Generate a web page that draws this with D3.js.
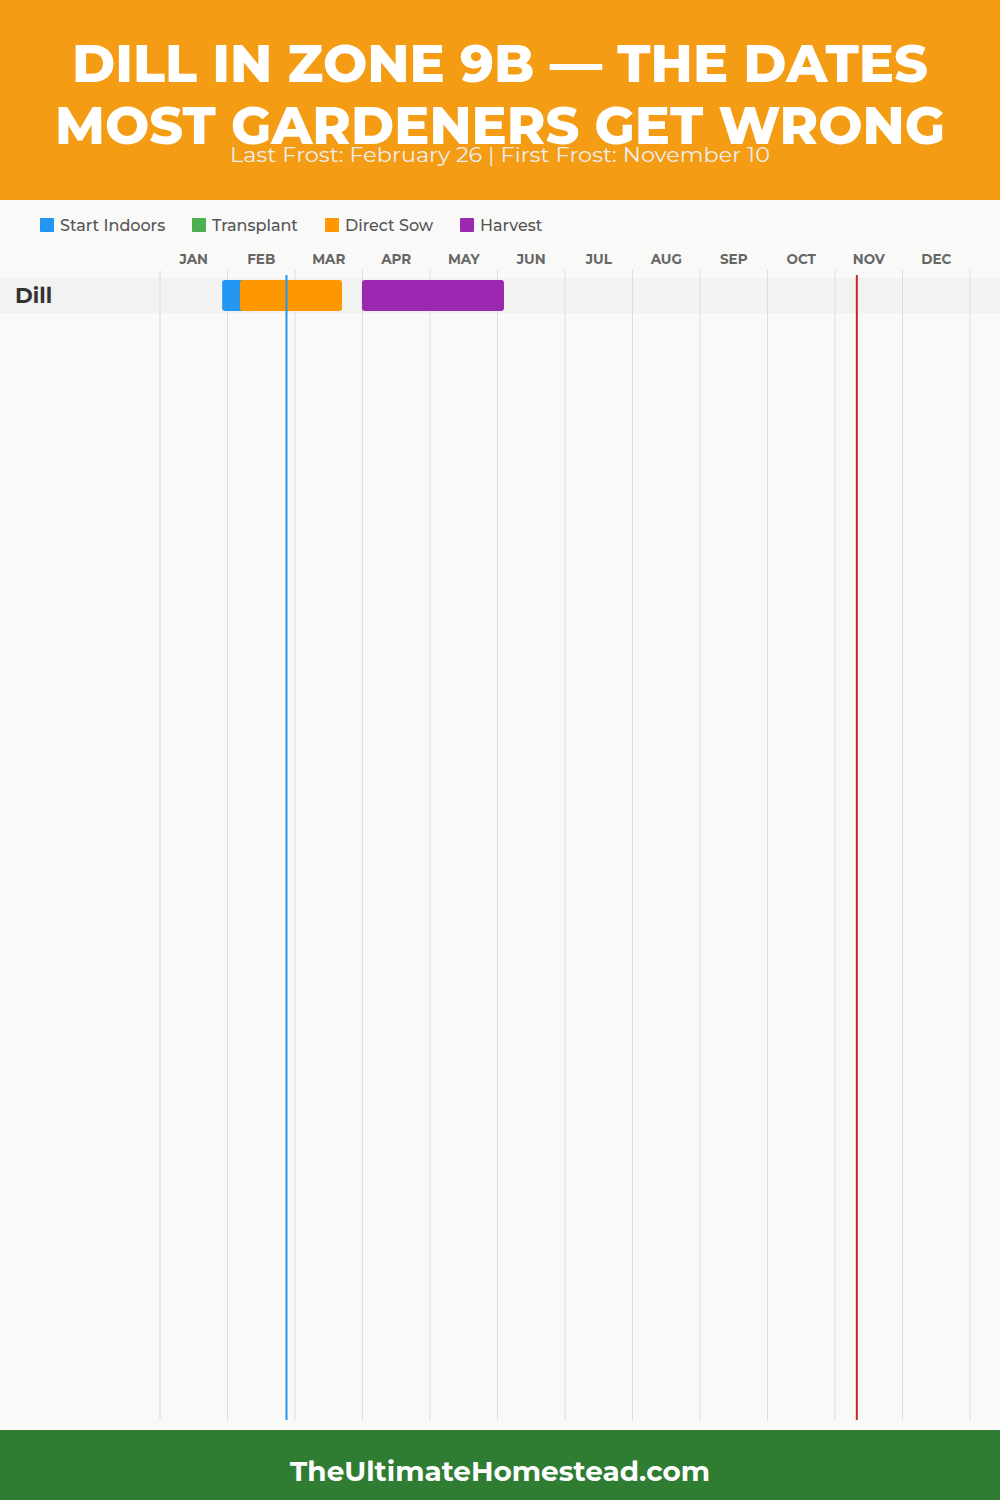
<!DOCTYPE html>
<html><head><meta charset="utf-8">
<script src="https://cdn.jsdelivr.net/npm/d3@7"></script>
<style>html,body{margin:0;padding:0;background:#f9f9f8;}svg{display:block;}</style>
</head><body>
<script>
const titleLines = ["DILL IN ZONE 9B — THE DATES", "MOST GARDENERS GET WRONG"];
const subtitle = "Last Frost: February 26 | First Frost: November 10";
const footerText = "TheUltimateHomestead.com";
const months = ["JAN","FEB","MAR","APR","MAY","JUN","JUL","AUG","SEP","OCT","NOV","DEC"];
const crops = ["Dill"];
const legendNames = ["Start Indoors","Transplant","Direct Sow","Harvest"];
const legendColors = ["#2196F3","#4CAF50","#FF9800","#9C27B0"];
// bars: crop, activity, start / end dates (MM-DD)
const barCrop = ["Dill","Dill","Dill"];
const barActivity = ["Start Indoors","Direct Sow","Harvest"];
const barStart = ["01-28","02-05","04-01"];
const barEnd = ["02-12","03-23","06-04"];
const lastFrost = "02-26";
const firstFrost = "11-10";

const W = 1000, H = 1500;
const svg = d3.select("body").append("svg").attr("width", W).attr("height", H);
const font = "Montserrat, 'Open Sans', 'DejaVu Sans', sans-serif";

svg.append("rect").attr("width", W).attr("height", H).attr("fill", "#f9f9f8");

// header
svg.append("rect").attr("x",0).attr("y",0).attr("width",W).attr("height",200).attr("fill","#F39C14");
const tl = [{y:82, w:856},{y:144, w:890}];
svg.selectAll("text.title").data(titleLines).join("text").attr("class","title")
  .attr("x", W/2).attr("y",(d,i)=>tl[i].y).attr("text-anchor","middle")
  .attr("font-family",font).attr("font-weight",800).attr("font-size",53)
  .attr("fill","#fff").attr("textLength",(d,i)=>tl[i].w).attr("lengthAdjust","spacingAndGlyphs")
  .text(d=>d);
svg.append("text").attr("x",W/2).attr("y",162).attr("text-anchor","middle")
  .attr("font-family",font).attr("font-weight",400).attr("font-size",20)
  .attr("fill","#eeeeee").attr("textLength",540).attr("lengthAdjust","spacingAndGlyphs")
  .text(subtitle);

// legend
const legendX = [40,192,325,460];
const lg = svg.selectAll("g.leg").data(legendNames).join("g").attr("class","leg")
  .attr("transform",(d,i)=>`translate(${legendX[i]},218)`);
lg.append("rect").attr("width",14).attr("height",14).attr("rx",1).attr("fill",(d,i)=>legendColors[i]);
lg.append("text").attr("x",20).attr("y",12.5).attr("font-family",font).attr("font-weight",500).attr("font-size",16)
  .attr("fill","#555").text(d=>d);

// scales
const x = d3.scaleLinear().domain([0,365]).range([160,970]);
const xm = d3.scaleLinear().domain([0,12]).range([160,970]);
const doy = s => { const [m,d] = s.split("-").map(Number); const dt = new Date(Date.UTC(2023,m-1,d)); return (dt - Date.UTC(2023,0,1))/86400000 + 1; };
const y = d3.scaleBand().domain(crops).range([278,313]);
const color = d3.scaleOrdinal().domain(legendNames).range(legendColors);

// month labels
svg.selectAll("text.mon").data(months).join("text").attr("class","mon")
  .attr("x",(d,i)=>xm(i+0.5)).attr("y",264).attr("text-anchor","middle")
  .attr("font-family",font).attr("font-weight",700).attr("font-size",13.5).attr("fill","#666").text(d=>d);

// row band
svg.selectAll("rect.band").data(crops).join("rect").attr("class","band")
  .attr("x",0).attr("width",W).attr("y",d=>y(d)).attr("height",y.bandwidth()).attr("fill","#f2f2f1");

// grid lines
svg.selectAll("line.grid").data(d3.range(13)).join("line").attr("class","grid")
  .attr("x1",d=>xm(d)).attr("x2",d=>xm(d)).attr("y1",270).attr("y2",1420)
  .attr("stroke","#dcdcdc").attr("stroke-width",1);

// crop labels
svg.selectAll("text.crop").data(crops).join("text").attr("class","crop")
  .attr("x",15).attr("y",d=>y(d)+y.bandwidth()/2+7.5).attr("font-family",font)
  .attr("font-weight",700).attr("font-size",21.5).attr("fill","#333").text(d=>d);

// bars
const bars = barCrop.map((c,i)=>({crop:c, act:barActivity[i], s:doy(barStart[i]), e:doy(barEnd[i])}));
svg.selectAll("rect.bar").data(bars).join("rect").attr("class","bar")
  .attr("x",d=>x(d.s)).attr("width",d=>x(d.e)-x(d.s))
  .attr("y",d=>y(d.crop)+2).attr("height",y.bandwidth()-4).attr("rx",3)
  .attr("fill",d=>color(d.act));

// frost lines
svg.append("line").attr("x1",x(doy(lastFrost))).attr("x2",x(doy(lastFrost))).attr("y1",275).attr("y2",1420)
  .attr("stroke","#2196F3").attr("stroke-width",2);
svg.append("line").attr("x1",x(doy(firstFrost))).attr("x2",x(doy(firstFrost))).attr("y1",275).attr("y2",1420)
  .attr("stroke","#C62828").attr("stroke-width",2);

// footer
svg.append("rect").attr("x",0).attr("y",1430).attr("width",W).attr("height",70).attr("fill","#2E7D32");
svg.append("text").attr("x",W/2).attr("y",1481).attr("text-anchor","middle")
  .attr("font-family",font).attr("font-weight",700).attr("font-size",28)
  .attr("fill","#fff").attr("textLength",420).attr("lengthAdjust","spacingAndGlyphs").text(footerText);
</script>
</body></html>
